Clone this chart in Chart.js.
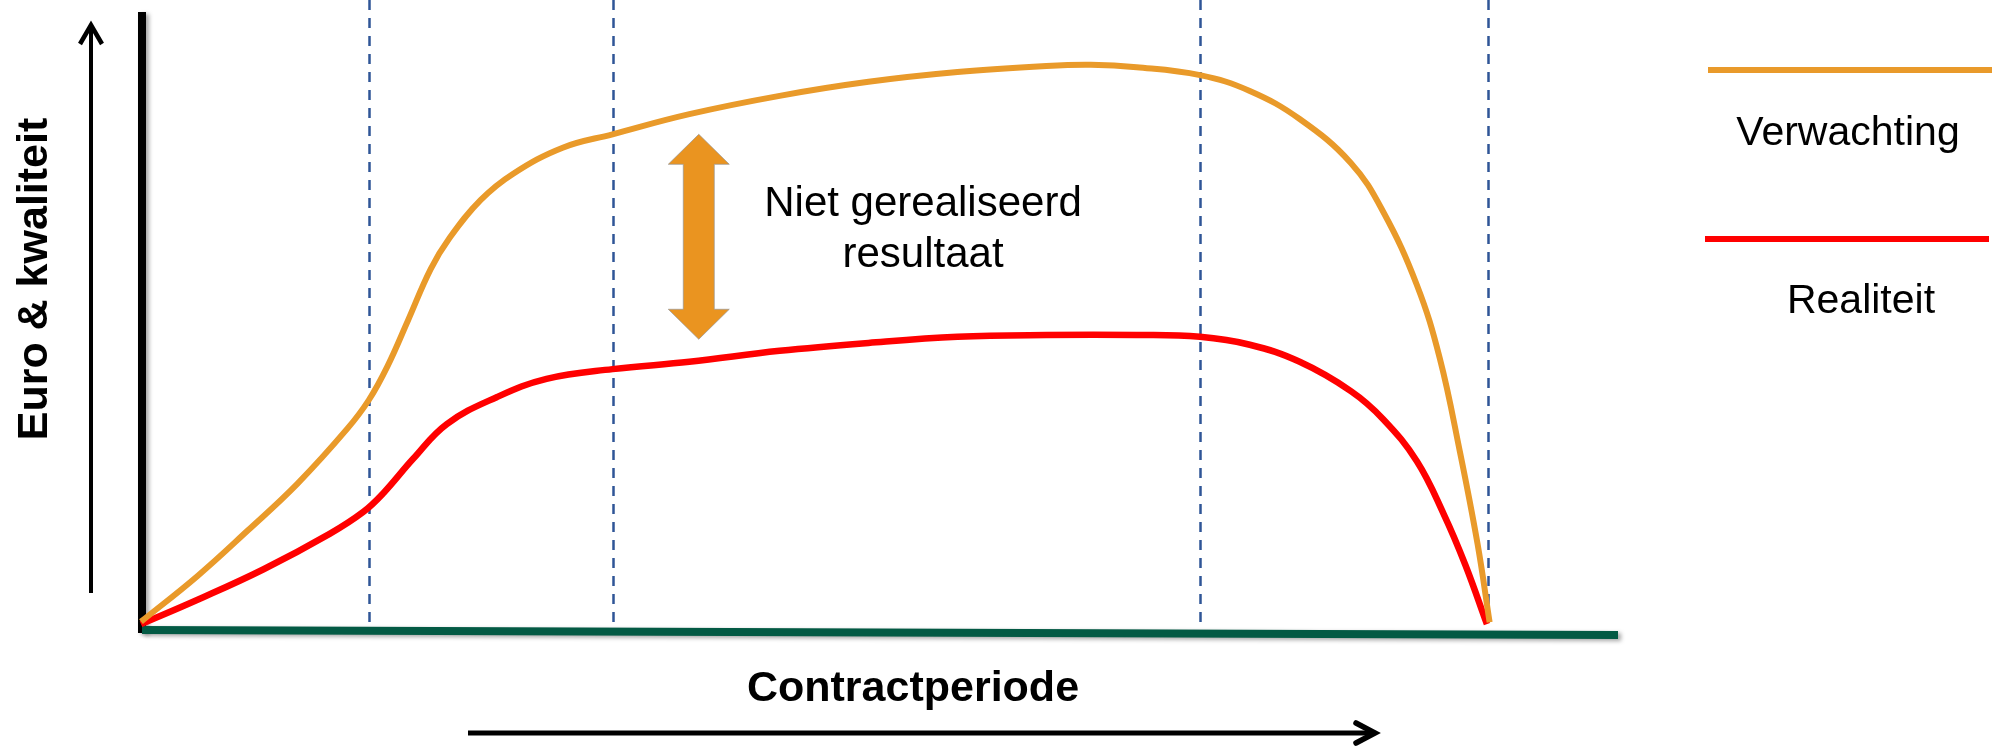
<!DOCTYPE html>
<html lang="nl">
<head>
<meta charset="utf-8">
<title>Verwachting en realiteit over de contractperiode</title>
<script src="https://cdn.jsdelivr.net/npm/chart.js@4.4.1/dist/chart.umd.min.js"></script>
<style>
  html, body { margin: 0; padding: 0; background: #fff; }
  canvas { display: block; }
</style>
</head>
<body>
<canvas id="grafiek" width="2006" height="747"></canvas>
<script>
// Gegevens: x = contractperiode (0..100), y = euro & kwaliteit (0..100)
const reeksNamen = ['Verwachting', 'Realiteit'];

const tijdVerwachting = [0, 4.2, 7.9, 11.6, 15.3, 16.9, 18.3, 19.8, 21.5, 22.9, 25.2, 27.6, 31.3, 35.0,
  40.7, 47.4, 54.0, 60.6, 67.2, 70.5, 73.9, 78.6, 82.3, 86.0, 89.8, 92.2, 94.7, 96.4, 97.9, 99.2, 100.1];
const verwachting = [1.2, 8.7, 16.1, 23.8, 32.8, 37.5, 43.1, 50.5, 59.0, 64.1, 70.3, 74.6, 78.9, 81.1,
  84.4, 87.4, 89.7, 91.3, 92.3, 92.5, 92.1, 90.8, 88.2, 83.6, 76.4, 68.4, 56.4, 44.4, 29.0, 14.0, 1.1];

const tijdRealiteit = [0, 4.2, 9.1, 14.0, 16.5, 18.0, 20.2, 22.7, 26.4, 30.1, 35.0, 40.7, 47.4, 54.0,
  60.6, 67.2, 73.9, 78.6, 82.3, 86.0, 89.8, 92.2, 94.7, 96.7, 98.3, 99.9];
const realiteit = [0.8, 4.8, 9.8, 15.6, 19.2, 22.3, 27.9, 33.6, 38.0, 41.0, 42.6, 43.8, 45.6, 46.9,
  47.9, 48.2, 48.2, 47.9, 46.6, 43.8, 39.0, 34.4, 27.5, 18.8, 10.5, 0.8];

const faseGrenzen = [16.9, 35.0, 78.6, 100];

const asTitelY = 'Euro & kwaliteit';
const asTitelX = 'Contractperiode';
const notitie = ['Niet gerealiseerd', 'resultaat'];

const kleuren = ['#E99A2A', '#FF0000'];
const lettertype = '"Liberation Sans", Arial, sans-serif';

// Achtergrond: fasestrepen en assen
const achtergrond = {
  id: 'achtergrond',
  beforeDatasetsDraw(chart) {
    const ctx = chart.ctx;
    const xs = chart.scales.x;
    const ca = chart.chartArea;

    // gestippelde fasegrenzen
    ctx.save();
    ctx.strokeStyle = '#2F5597';
    ctx.lineWidth = 2.5;
    ctx.setLineDash([10, 8]);
    faseGrenzen.forEach(v => {
      const px = Math.round(xs.getPixelForValue(v)) + 0.5;
      ctx.beginPath();
      ctx.moveTo(px, 0);
      ctx.lineTo(px, ca.bottom);
      ctx.stroke();
    });
    ctx.restore();

    // assen met lichte schaduw
    ctx.save();
    ctx.shadowColor = 'rgba(0,0,0,0.35)';
    ctx.shadowBlur = 4;
    ctx.shadowOffsetX = 3;
    ctx.shadowOffsetY = 2;
    ctx.fillStyle = '#000';
    ctx.fillRect(ca.left - 3, 12, 8, ca.bottom + 4 - 12);

    ctx.strokeStyle = '#035A44';
    ctx.lineWidth = 8;
    ctx.beginPath();
    ctx.moveTo(ca.left + 1, ca.bottom + 1);
    ctx.lineTo(ca.right - 5, ca.bottom + 6);
    ctx.stroke();
    ctx.restore();
  }
};

// Voorgrond: pijlen, teksten en legenda
const voorgrond = {
  id: 'voorgrond',
  afterDatasetsDraw(chart) {
    const ctx = chart.ctx;
    const xs = chart.scales.x;
    const ys = chart.scales.y;

    // dubbele pijl tussen verwachting en realiteit
    const cx = xs.getPixelForValue(41.4);
    const top = ys.getPixelForValue(81.1);
    const bodem = ys.getPixelForValue(47.5);
    const kop = 30, schacht = 15.5, breed = 30.5;
    ctx.save();
    ctx.fillStyle = '#EA9420';
    ctx.strokeStyle = 'rgba(150,150,150,0.7)';
    ctx.lineWidth = 1;
    ctx.beginPath();
    ctx.moveTo(cx, top);
    ctx.lineTo(cx + breed, top + kop);
    ctx.lineTo(cx + schacht, top + kop);
    ctx.lineTo(cx + schacht, bodem - kop);
    ctx.lineTo(cx + breed, bodem - kop);
    ctx.lineTo(cx, bodem);
    ctx.lineTo(cx - breed, bodem - kop);
    ctx.lineTo(cx - schacht, bodem - kop);
    ctx.lineTo(cx - schacht, top + kop);
    ctx.lineTo(cx - breed, top + kop);
    ctx.closePath();
    ctx.fill();
    ctx.stroke();
    ctx.restore();

    ctx.save();
    ctx.fillStyle = '#000';
    ctx.textAlign = 'center';
    ctx.textBaseline = 'alphabetic';

    // notitie
    ctx.font = '42px ' + lettertype;
    ctx.fillText(notitie[0], 923, 216);
    ctx.fillText(notitie[1], 923, 267);

    // astitels
    ctx.font = 'bold 43px ' + lettertype;
    ctx.fillText(asTitelX, 913, 701);
    ctx.save();
    ctx.translate(47, 279);
    ctx.rotate(-Math.PI / 2);
    ctx.fillText(asTitelY, 0, 0);
    ctx.restore();

    // legenda
    ctx.font = '41px ' + lettertype;
    ctx.lineWidth = 6;
    ctx.strokeStyle = kleuren[0];
    ctx.beginPath(); ctx.moveTo(1708, 70); ctx.lineTo(1992, 70); ctx.stroke();
    ctx.fillText(reeksNamen[0], 1848, 145);
    ctx.strokeStyle = kleuren[1];
    ctx.beginPath(); ctx.moveTo(1705, 239); ctx.lineTo(1989, 239); ctx.stroke();
    ctx.fillText(reeksNamen[1], 1861, 313);

    // richtingpijlen
    ctx.strokeStyle = '#000';
    ctx.lineCap = 'butt';
    ctx.lineJoin = 'miter';
    ctx.lineWidth = 4;
    ctx.beginPath(); ctx.moveTo(91, 593); ctx.lineTo(91, 25); ctx.stroke();
    ctx.lineWidth = 4.5;
    ctx.beginPath(); ctx.moveTo(80, 44); ctx.lineTo(91, 25); ctx.lineTo(102, 44); ctx.stroke();

    ctx.lineWidth = 5;
    ctx.beginPath(); ctx.moveTo(468, 733); ctx.lineTo(1374, 733); ctx.stroke();
    ctx.lineCap = 'round';
    ctx.lineWidth = 5.5;
    ctx.beginPath(); ctx.moveTo(1356, 723); ctx.lineTo(1375, 733); ctx.lineTo(1356, 743); ctx.stroke();
    ctx.restore();
  }
};

const ctx = document.getElementById('grafiek').getContext('2d');
new Chart(ctx, {
  type: 'line',
  data: {
    datasets: [
      {
        label: reeksNamen[0],
        data: tijdVerwachting.map((x, i) => ({ x: x, y: verwachting[i] })),
        borderColor: kleuren[0],
        borderWidth: 6,
        pointRadius: 0,
        tension: 0.4,
        fill: false,
        clip: false
      },
      {
        label: reeksNamen[1],
        data: tijdRealiteit.map((x, i) => ({ x: x, y: realiteit[i] })),
        borderColor: kleuren[1],
        borderWidth: 6.5,
        pointRadius: 0,
        tension: 0.4,
        fill: false,
        clip: false
      }
    ]
  },
  options: {
    responsive: false,
    animation: false,
    layout: { padding: { left: 141, right: 383, top: 19, bottom: 118 } },
    scales: {
      x: { type: 'linear', min: 0, max: 110, display: false },
      y: { min: 0, max: 100, display: false }
    },
    plugins: {
      legend: { display: false },
      tooltip: { enabled: false }
    }
  },
  plugins: [achtergrond, voorgrond]
});
</script>
</body>
</html>
